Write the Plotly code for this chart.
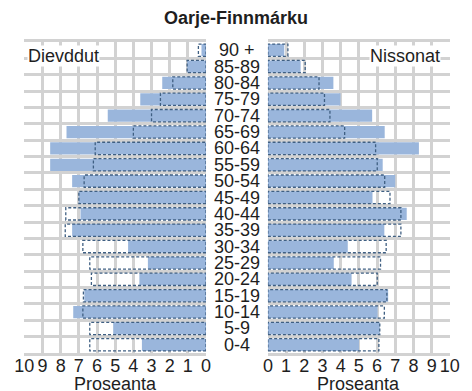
import plotly.graph_objects as go

# Age groups, youngest at the bottom
ages = ["0-4", "5-9", "10-14", "15-19", "20-24", "25-29", "30-34", "35-39",
        "40-44", "45-49", "50-54", "55-59", "60-64", "65-69", "70-74",
        "75-79", "80-84", "85-89", "90 +"]

# Share of the population (%) in each age group, region
men = [3.53, 5.11, 7.31, 6.70, 3.67, 3.20, 4.29, 7.37, 6.91, 7.01,
       7.37, 8.58, 8.58, 7.68, 5.41, 3.62, 2.41, 1.04, 0.25]
women = [5.01, 6.15, 6.03, 6.61, 4.60, 3.62, 4.39, 6.40, 7.63, 5.75,
         7.00, 6.31, 8.30, 6.42, 5.73, 3.99, 3.60, 1.80, 0.90]

# Share of the population (%) in each age group, comparison population (dashed)
men_ref = [6.40, 6.40, 6.78, 6.75, 6.31, 6.40, 6.78, 7.75, 7.72, 7.00,
           6.71, 6.20, 6.10, 4.00, 3.00, 2.51, 1.83, 1.04, 0.42]
women_ref = [6.10, 6.15, 6.40, 6.54, 6.01, 6.19, 6.50, 7.31, 7.31, 6.71,
             6.42, 6.01, 5.92, 4.22, 3.41, 3.11, 2.81, 2.05, 1.10]

ticks = list(range(0, 11))

FONT = "Liberation Sans, Arial, sans-serif"
FILL = "#9ab6dc"
DASH = "#3f5f82"
GRID = "#d2d2d2"
TEXT = "#1e1e1e"
BAR_W = 0.75
W, H = 472, 391

pos = list(range(len(ages)))


def outline(values):
    """Closed rectangle paths (separated by None) for dashed comparison bars."""
    xs, ys = [], []
    h = BAR_W / 2
    for i, v in zip(pos, values):
        xs += [0, v, v, 0, 0, None]
        ys += [i - h, i - h, i + h, i + h, i - h, None]
    return xs, ys


fig = go.Figure()

fig.add_trace(go.Bar(y=pos, x=men, orientation="h", width=BAR_W,
                     marker=dict(color=FILL, line=dict(width=0)),
                     xaxis="x", yaxis="y", showlegend=False))
fig.add_trace(go.Bar(y=pos, x=women, orientation="h", width=BAR_W,
                     marker=dict(color=FILL, line=dict(width=0)),
                     xaxis="x2", yaxis="y2", showlegend=False))

mx, my = outline(men_ref)
fig.add_trace(go.Scatter(x=mx, y=my, mode="lines", xaxis="x", yaxis="y",
                         line=dict(color=DASH, width=1.3, dash="3px,2px"),
                         showlegend=False, hoverinfo="skip"))
wx, wy = outline(women_ref)
fig.add_trace(go.Scatter(x=wx, y=wy, mode="lines", xaxis="x2", yaxis="y2",
                         line=dict(color=DASH, width=1.3, dash="3px,2px"),
                         showlegend=False, hoverinfo="skip"))

y_dom = [(H - 353) / H, (H - 42) / H]
xl_dom = [15 / W, 204.7 / W]
xr_dom = [269.3 / W, 459.3 / W]

xaxis_common = dict(
    tickmode="array", tickvals=ticks, ticktext=[str(t) for t in ticks],
    showgrid=True, gridcolor=GRID, gridwidth=2.5, zeroline=False,
    showline=True, linecolor=GRID, linewidth=2.5, mirror=True,
    ticks="", tickangle=0, ticklabelstandoff=-5,
    tickfont=dict(family=FONT, size=18, color=TEXT), fixedrange=True,
)
yaxis_common = dict(
    range=[-0.5, len(ages) - 0.5], tickmode="array",
    tickvals=[i - 0.5 for i in range(len(ages) + 1)],
    showticklabels=False, showgrid=True, gridcolor=GRID, gridwidth=2.5,
    zeroline=False, showline=False, ticks="", domain=y_dom, fixedrange=True,
)

fig.update_layout(
    width=W, height=H,
    margin=dict(l=0, r=0, t=0, b=0),
    paper_bgcolor="white", plot_bgcolor="white",
    barmode="overlay",
    xaxis=dict(domain=xl_dom, range=[10, 0], anchor="y", **xaxis_common),
    xaxis2=dict(domain=xr_dom, range=[0, 10], anchor="y2", **xaxis_common),
    yaxis=dict(anchor="x", **yaxis_common),
    yaxis2=dict(anchor="x2", **yaxis_common),
    title=dict(text="Oarje-Finnmárku", x=0.5, xanchor="center",
               y=1 - 18 / H, yanchor="middle",
               font=dict(family=FONT, size=18, color=TEXT, weight="bold")),
)

# Age group labels between the two halves
for i, a in zip(pos, ages):
    fig.add_annotation(x=237 / W, xref="paper", y=i, yref="y",
                       text=a, showarrow=False, xanchor="center",
                       yanchor="middle",
                       font=dict(family=FONT, size=18, color=TEXT))

# Panel labels
fig.add_annotation(x=56 / W, y=1 - 56 / H, xref="paper", yref="paper",
                   text="Dievddut", showarrow=False, bgcolor="white",
                   borderpad=0, xanchor="center", yanchor="middle",
                   font=dict(family=FONT, size=18, color=TEXT))
fig.add_annotation(x=412 / W, y=1 - 56 / H, xref="paper", yref="paper",
                   text="Nissonat", showarrow=False, bgcolor="white",
                   borderpad=0, xanchor="center", yanchor="middle",
                   font=dict(family=FONT, size=18, color=TEXT))

# Axis titles
for cx in (sum(xl_dom) / 2, sum(xr_dom) / 2):
    fig.add_annotation(x=cx, y=1 - 384 / H, xref="paper", yref="paper",
                       text="Proseanta", showarrow=False,
                       xanchor="center", yanchor="middle",
                       font=dict(family=FONT, size=18, color=TEXT))

fig.write_html("out.html")
